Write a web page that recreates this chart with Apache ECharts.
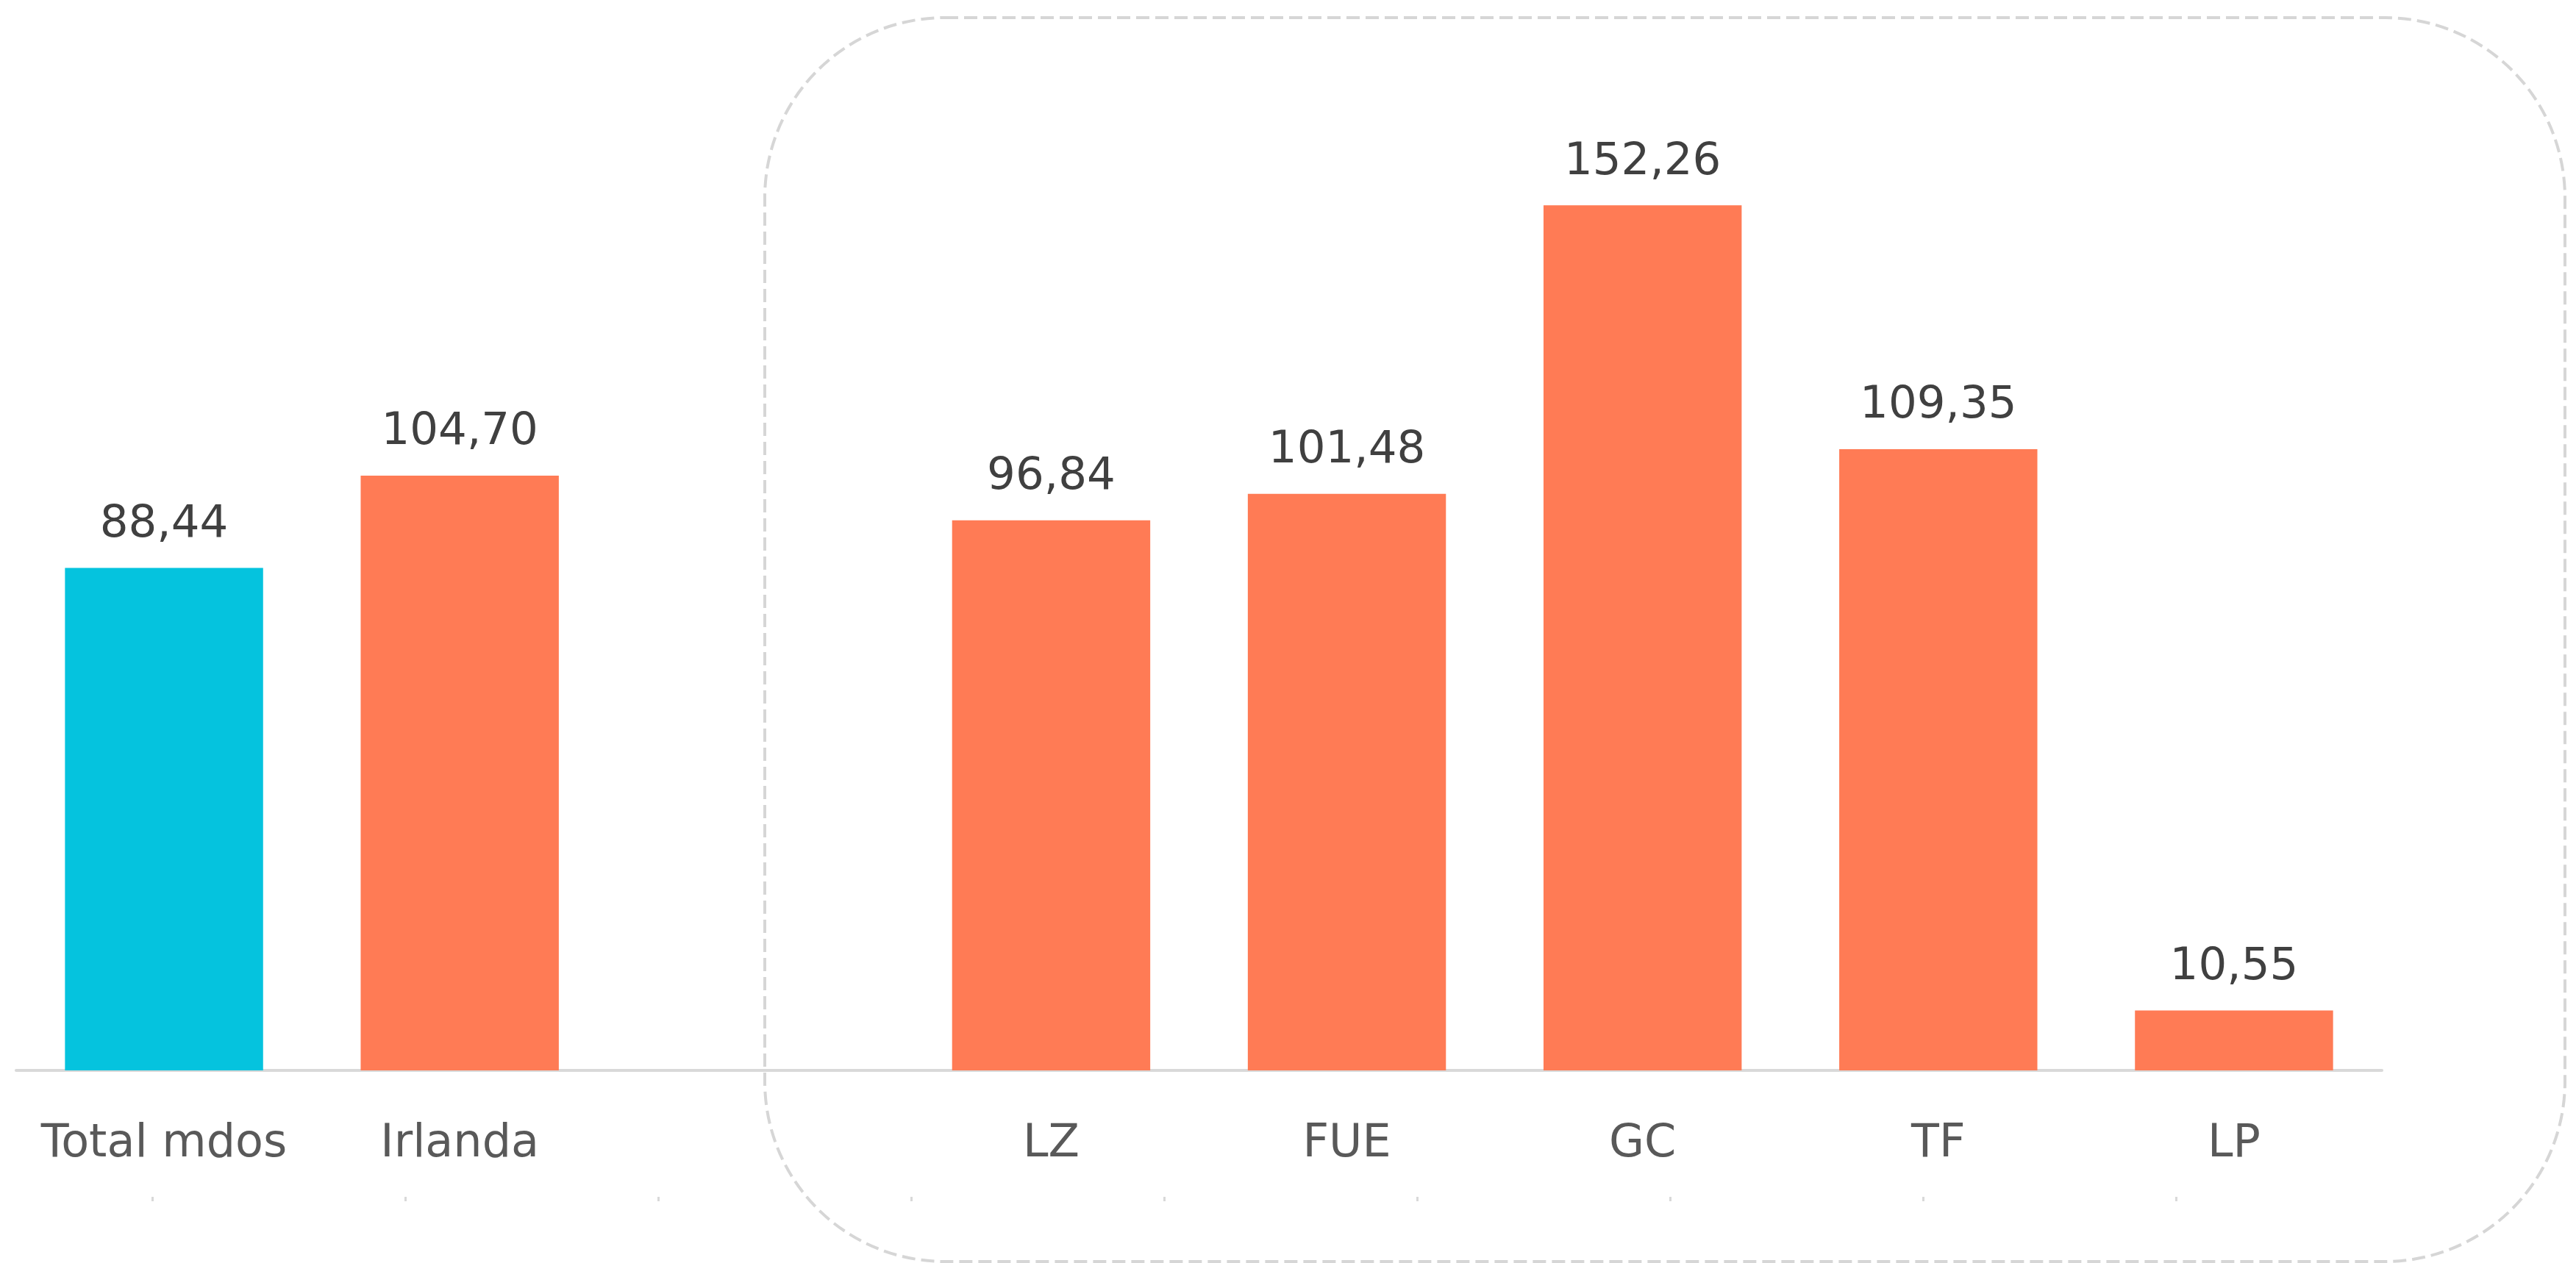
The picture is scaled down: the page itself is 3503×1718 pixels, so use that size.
<!DOCTYPE html>
<html>
<head>
<meta charset="utf-8">
<script src="https://cdn.jsdelivr.net/npm/echarts@6/dist/echarts.min.js"></script>
<style>
html,body{margin:0;padding:0;background:#fff;}
#chart{width:3503px;height:1718px;}
</style>
</head>
<body>
<div id="chart"></div>
<script>
// ---- data ----
const categories = ["Total mdos", "Irlanda", "", "LZ", "FUE", "GC", "TF", "LP"];
const values = [88.44, 104.70, null, 96.84, 101.48, 152.26, 109.35, 10.55];
const tickCategories = ["", "", "", "", "", "", "", ""];

// ---- styles ----
const BLUE = "#05C3DE";
const ORANGE = "#FF7B55";
const FONT = "DejaVu Sans";

const chart = echarts.init(document.getElementById("chart"), null, {renderer: "canvas"});
chart.setOption({
  backgroundColor: "#ffffff",
  animation: false,
  grid: [
    {left: 22, right: 264, top: 65, bottom: 262, containLabel: false},
    {left: 207, right: 544, top: 1500, bottom: 90, containLabel: false}
  ],
  xAxis: [
    {
      type: "category",
      gridIndex: 0,
      data: categories,
      axisLine: {show: true, lineStyle: {color: "#D9D9D9", width: 4}},
      axisTick: {show: false},
      axisLabel: {
        show: true, interval: 0, margin: 70,
        fontFamily: FONT, fontSize: 62, color: "#595959"
      },
      splitLine: {show: false}
    },
    {
      type: "category",
      gridIndex: 1,
      data: tickCategories,
      boundaryGap: true,
      axisLine: {show: false},
      axisTick: {show: true, length: 6, lineStyle: {color: "#D9D9D9", width: 3}},
      axisLabel: {show: false},
      splitLine: {show: false}
    }
  ],
  yAxis: [
    {type: "value", gridIndex: 0, min: 0, max: 180, show: false, splitLine: {show: false}},
    {type: "value", gridIndex: 1, show: false, splitLine: {show: false}}
  ],
  series: [{
    type: "bar",
    xAxisIndex: 0,
    yAxisIndex: 0,
    data: values,
    barCategoryGap: "33%",
    itemStyle: {
      color: function (p) { return p.dataIndex === 0 ? BLUE : ORANGE; }
    },
    label: {
      show: true,
      position: "top",
      distance: 28,
      fontFamily: FONT,
      fontSize: 61,
      color: "#404040",
      formatter: function (p) { return p.value == null ? "" : p.value.toFixed(2).replace(".", ","); }
    }
  }],
  graphic: [{
    type: "rect",
    z: 10,
    shape: {x: 1040, y: 24, width: 2448, height: 1692, r: 245},
    style: {fill: null, stroke: "#D6D6D6", lineWidth: 4, lineDash: [18, 8]},
    silent: true
  }]
});
</script>
</body>
</html>
